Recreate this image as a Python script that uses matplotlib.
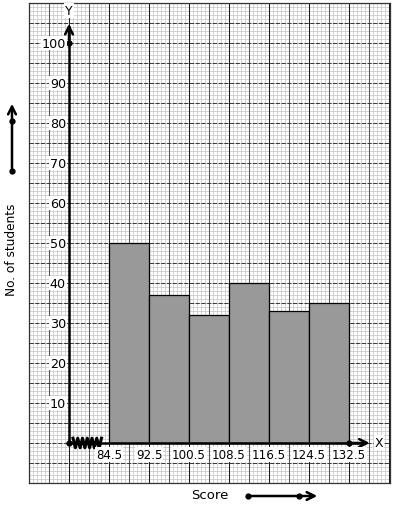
import numpy as np
import matplotlib
matplotlib.use("Agg")
import matplotlib.pyplot as plt

# class boundaries and frequencies
edges = [84.5, 92.5, 100.5, 108.5, 116.5, 124.5, 132.5]
counts = [50, 37, 32, 40, 33, 35]
y_ticks = [10, 20, 30, 40, 50, 60, 70, 80, 90, 100]

x_origin = 76.5  # where the y axis sits (broken x axis)

fig = plt.figure(figsize=(3.94, 5.10), dpi=100)
ax = fig.add_axes([29 / 394, 26 / 510, 361 / 394, 480 / 510])
ax.set_xlim(68.5, 140.7)
ax.set_ylim(-10, 110)

# graph paper
for x in np.arange(68.5, 141, 0.8):
    ax.axvline(x, color="#c8c8c8", lw=0.55, zorder=0)
for y in np.arange(-10, 111, 1):
    ax.axhline(y, color="#c8c8c8", lw=0.55, zorder=0)
for i, x in enumerate(np.arange(68.5, 141, 4)):
    ax.axvline(x, color="#1a1a1a" if i % 2 == 0 else "#555555", lw=0.75, zorder=0.5)
for y in np.arange(-10, 111, 5):
    ax.axhline(y, color="#3a3a3a", lw=0.75, ls=(0, (4, 1.5)), zorder=0.5)

ax.set_xticks([])
ax.set_yticks([])
for s in ax.spines.values():
    s.set_color("#333333")
    s.set_linewidth(0.9)

# bars
widths = np.diff(edges)
ax.bar(edges[:-1], counts, width=widths, align="edge", color="#999999",
       edgecolor="black", linewidth=0.9, zorder=2)

# axes with arrows
ax.plot([x_origin, x_origin], [0, 104], color="black", lw=1.8, zorder=3)
ax.annotate("", xy=(x_origin, 105.5), xytext=(x_origin, 100),
            arrowprops=dict(arrowstyle="->", lw=1.8, color="black",
                            mutation_scale=14), zorder=3)
ax.plot([x_origin, 135.5], [0, 0], color="black", lw=1.8, zorder=3)
ax.annotate("", xy=(137.2, 0), xytext=(132.5, 0),
            arrowprops=dict(arrowstyle="->", lw=1.8, color="black",
                            mutation_scale=14), zorder=3)
ax.plot([x_origin, x_origin, edges[-1]], [0, 100, 0], "o", color="black",
        ms=3.5, zorder=4)

# zigzag for broken axis
zx = np.linspace(77.3, 83.0, 13)
zy = np.where(np.arange(13) % 2 == 0, 1.2, -1.2)
ax.plot(zx, zy, color="black", lw=2.2, zorder=4)

box = dict(facecolor="white", edgecolor="none", pad=0.6)
for y in y_ticks:
    ax.text(x_origin - 0.6, y, str(y), ha="right", va="center", fontsize=9.2,
            bbox=box, zorder=5)
for x in edges:
    ax.text(x, -2.8, f"{x:g}", ha="center", va="center", fontsize=8.6,
            bbox=box, zorder=5)
ax.text(x_origin, 108.2, "Y", ha="center", va="center", fontsize=9,
        bbox=box, zorder=5)
ax.text(138.5, 0.2, "X", ha="center", va="center", fontsize=9,
        bbox=box, zorder=5)

# axis titles with their arrows
fig.text(12 / 394, 1 - 250 / 510, "No. of students", rotation=90,
         ha="center", va="center", fontsize=8.7)
fig.text(210 / 394, 1 - 496 / 510, "Score", ha="center", va="center",
         fontsize=9.5)

fig.add_artist(matplotlib.patches.FancyArrowPatch(
    (12 / 394, 1 - 172 / 510), (12 / 394, 1 - 102 / 510),
    transform=fig.transFigure, arrowstyle="->", lw=1.8, color="black",
    mutation_scale=14))
fig.add_artist(matplotlib.patches.FancyArrowPatch(
    (248 / 394, 1 - 497 / 510), (320 / 394, 1 - 497 / 510),
    transform=fig.transFigure, arrowstyle="->", lw=1.8, color="black",
    mutation_scale=14))
fig.add_artist(matplotlib.lines.Line2D(
    [12 / 394, 12 / 394], [1 - 172 / 510, 1 - 122 / 510],
    transform=fig.transFigure, ls="none", marker="o", ms=3.5, color="black"))
fig.add_artist(matplotlib.lines.Line2D(
    [248 / 394, 299 / 394], [1 - 497 / 510, 1 - 497 / 510],
    transform=fig.transFigure, ls="none", marker="o", ms=3.5, color="black"))

fig.savefig("out.png", dpi=100)
